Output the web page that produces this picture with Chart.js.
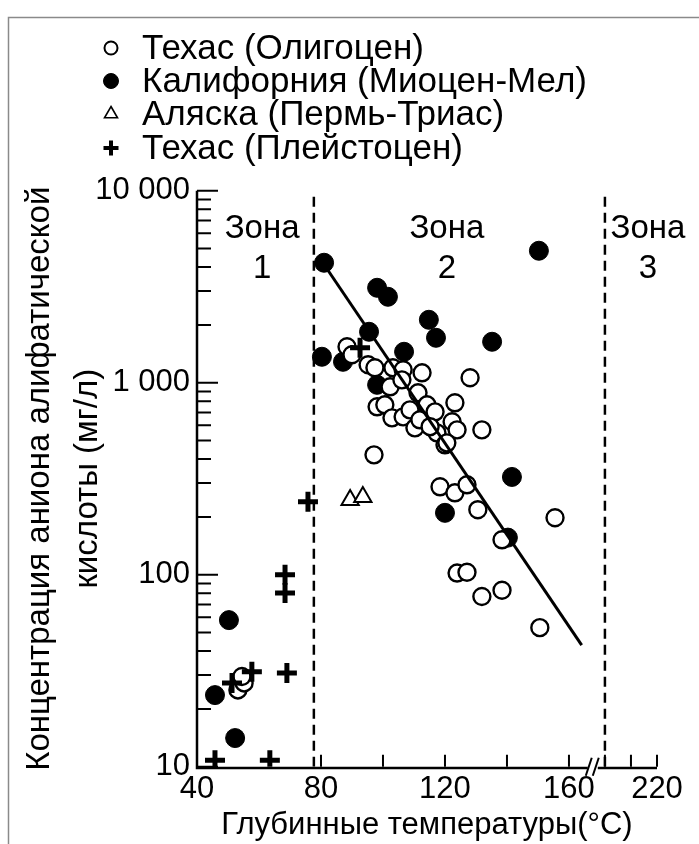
<!DOCTYPE html>
<html lang="ru">
<head>
<meta charset="utf-8">
<title>Концентрация аниона алифатической кислоты</title>
<script src="https://cdn.jsdelivr.net/npm/chart.js@4.4.1/dist/chart.umd.min.js"></script>
<style>
  html, body { margin: 0; padding: 0; background: #fff; }
  canvas { display: block; }
</style>
</head>
<body>
<canvas id="chart" width="699" height="844"></canvas>
<script>
// Техас (Олигоцен) - open circles
const oligoceneTemp = [88.4, 90.0, 95.2, 97.4, 103.2, 106.5, 112.6, 128.1, 102.3, 106.1, 111.3, 98.1, 100.6, 102.9, 106.5,
    108.7, 110.3, 115.8, 123.2, 122.3, 123.9, 117.4, 120.0, 131.9, 97.1, 111.9, 114.2, 116.8, 115.2, 120.6,
    118.4, 123.2, 127.1, 130.6, 138.4, 155.5, 123.9, 127.1, 131.9, 138.4, 150.6, 53.2, 55.2, 54.5]
const oligoceneConc = [1539, 1398, 1240, 1196, 1196, 1168, 1126, 1061, 952, 1035, 886, 749, 767, 656, 664,
    722, 582, 697, 786, 626, 568, 548, 475, 568, 421, 641, 767, 705, 590, 486,
    287, 267, 294, 218, 152, 198, 102, 103, 77, 83, 53, 25.1, 27.3, 29.5]

// Калифорния (Миоцен-Мел) - filled circles
const californiaTemp = [81.0, 80.3, 98.1, 101.6, 95.5, 114.8, 117.1, 106.8, 87.1, 150.3, 135.2, 98.1, 141.6, 120.0, 140.3, 50.3, 45.8, 52.3]
const californiaConc = [4215, 1365, 3122, 2803, 1842, 2127, 1714, 1449, 1285, 4868, 1634, 975, 323, 210, 156, 58, 23.6, 14.1]

// Аляска (Пермь-Триас) - triangles
const alaskaTemp = [89.4, 93.5]
const alaskaConc = [245, 254]

// Техас (Плейстоцен) - crosses
const pleistoceneTemp = [75.8, 68.4, 68.4, 69.0, 57.7, 51.3, 45.8, 63.5, 92.6]
const pleistoceneConc = [240, 100, 80.4, 30.8, 31.2, 27.3, 10.8, 10.8, 1520]

// regression line ends
const trendTemp = [80.6, 164.1]
const trendConc = [4215, 43]

const zoneBounds = [77.7, 200]
const zoneNames = ['Зона', 'Зона', 'Зона']
const zoneNumbers = ['1', '2', '3']

const xTickValues = [40, 80, 120, 160, 220]
const xTickMarks = [80, 100, 120, 140, 160, 200, 210, 220]
const yTickValues = [10, 100, 1000, 10000]

const FONT = "'Liberation Sans', Arial, sans-serif"

const toPoints = (xs, ys) => xs.map((x, i) => ({ x: x, y: ys[i] }))

// temperature axis is cut between 168 and 196 °C, the tail after the cut is a bit denser
const CUT_START = 168, CUT_END = 196, CUT_GAP = 0.24, TAIL_SCALE = 0.84
function squeeze(t) {
    if (t <= CUT_START) return t
    if (t < CUT_END) return CUT_START
    return CUT_START + CUT_GAP + (t - CUT_END) * TAIL_SCALE
}
function unsqueeze(u) {
    if (u <= CUT_START) return u
    return CUT_END + (u - CUT_START - CUT_GAP) / TAIL_SCALE
}

class BrokenLinearScale extends Chart.LinearScale {
    buildTicks() {
        this.start = this.min
        this.end = this.max
        return xTickValues.map(value => ({ value }))
    }
    getPixelForValue(value) {
        const a = squeeze(this.min), b = squeeze(this.max)
        return this.getPixelForDecimal((squeeze(value) - a) / (b - a))
    }
    getValueForPixel(pixel) {
        const a = squeeze(this.min), b = squeeze(this.max)
        return unsqueeze(a + this.getDecimalForPixel(pixel) * (b - a))
    }
}
BrokenLinearScale.id = 'brokenLinear'
BrokenLinearScale.defaults = Chart.LinearScale.defaults
Chart.register(BrokenLinearScale)

const spaced = v => String(v).replace(/\B(?=(\d{3})+(?!\d))/g, ' ')

// white sheet with a thin grey frame
const paper = {
    id: 'paper',
    beforeDraw(chart) {
        const ctx = chart.ctx
        ctx.save()
        ctx.fillStyle = '#fff'
        ctx.fillRect(0, 0, chart.width, chart.height)
        ctx.strokeStyle = '#8a8a8a'
        ctx.lineWidth = 1.5
        ctx.strokeRect(8.5, 17.5, chart.width + 10, chart.height + 10)
        ctx.restore()
    }
}

// axes with inner ticks, the axis break, zone captions and the legend
const decorations = {
    id: 'decorations',
    afterDraw(chart) {
        const ctx = chart.ctx
        const x = chart.scales.x, y = chart.scales.y
        const area = chart.chartArea
        ctx.save()
        ctx.strokeStyle = '#000'
        ctx.fillStyle = '#000'
        ctx.lineWidth = 2.5
        ctx.lineCap = 'butt'

        ctx.beginPath()
        ctx.moveTo(area.left, area.top)
        ctx.lineTo(area.left, area.bottom + 1.2)
        ctx.lineTo(area.right, area.bottom + 1.2)
        ctx.stroke()

        // log ticks on the inner side
        ctx.lineWidth = 2
        ctx.beginPath()
        for (let d = 10; d <= 10000; d *= 10) {
            for (let k = 1; k <= 9; k++) {
                const v = d * k
                if (v > 10000) break
                const py = y.getPixelForValue(v)
                ctx.moveTo(area.left, py)
                ctx.lineTo(area.left + (k === 1 ? 21 : 14), py)
            }
        }
        xTickMarks.forEach(t => {
            const px = x.getPixelForValue(t)
            ctx.moveTo(px, area.bottom)
            ctx.lineTo(px, area.bottom - 12)
        })
        ctx.stroke()

        // break marks
        const bx = x.getPixelForValue(CUT_START)
        ctx.fillStyle = '#fff'
        ctx.fillRect(bx - 6, area.bottom - 3, 10, 7)
        ctx.strokeStyle = '#000'
        ctx.lineWidth = 2
        ctx.beginPath()
        ctx.moveTo(bx - 8, area.bottom + 9)
        ctx.lineTo(bx - 2, area.bottom - 9)
        ctx.moveTo(bx - 1, area.bottom + 9)
        ctx.lineTo(bx + 5, area.bottom - 9)
        ctx.stroke()

        // zone captions
        const zoneCenters = [61, 120.6, 216.5]
        ctx.fillStyle = '#000'
        ctx.font = '33px ' + FONT
        ctx.textAlign = 'center'
        ctx.textBaseline = 'middle'
        zoneNames.forEach((name, i) => {
            const px = x.getPixelForValue(zoneCenters[i])
            ctx.fillText(name, px, area.top + 38)
            ctx.fillText(zoneNumbers[i], px, area.top + 78)
        })

        // legend
        const rows = [48, 81, 114, 148]
        const sizes = [6.5, 7.5, 7.5, 7.5]
        const widths = [2, 1, 1.6, 4]
        ctx.textAlign = 'left'
        ctx.font = '35px ' + FONT
        chart.data.datasets.filter(ds => ds.inLegend).forEach((ds, i) => {
            ctx.fillStyle = ds.backgroundColor
            ctx.strokeStyle = '#000'
            ctx.lineWidth = widths[i]
            Chart.helpers.drawPoint(ctx, {
                pointStyle: ds.pointStyle,
                radius: sizes[i],
                rotation: 0,
                borderWidth: widths[i]
            }, 111, rows[i])
            ctx.fillStyle = '#000'
            ctx.fillText(ds.label, 142, rows[i] + 1)
        })
        ctx.restore()
    }
}

const zoneLine = t => ({
    type: 'line',
    data: [{ x: t, y: 10 }, { x: t, y: 10000 }],
    borderColor: '#000',
    borderWidth: 2.5,
    borderDash: [10, 6],
    pointRadius: 0,
    showLine: true,
    order: 6
})

const data = {
    datasets: [
        {
            label: 'Техас (Олигоцен)',
            inLegend: true,
            data: toPoints(oligoceneTemp, oligoceneConc),
            pointStyle: 'circle',
            pointRadius: 8.5,
            pointBorderWidth: 2.4,
            borderColor: '#000',
            backgroundColor: '#fff',
            order: 3
        },
        {
            label: 'Калифорния (Миоцен-Мел)',
            inLegend: true,
            data: toPoints(californiaTemp, californiaConc),
            pointStyle: 'circle',
            pointRadius: 9.5,
            pointBorderWidth: 1,
            borderColor: '#000',
            backgroundColor: '#000',
            order: 5
        },
        {
            label: 'Аляска (Пермь-Триас)',
            inLegend: true,
            data: toPoints(alaskaTemp, alaskaConc),
            pointStyle: 'triangle',
            pointRadius: 10,
            pointBorderWidth: 2,
            borderColor: '#000',
            backgroundColor: '#fff',
            order: 4
        },
        {
            label: 'Техас (Плейстоцен)',
            inLegend: true,
            data: toPoints(pleistoceneTemp, pleistoceneConc),
            pointStyle: 'cross',
            pointRadius: 10,
            pointBorderWidth: 5,
            borderColor: '#000',
            backgroundColor: '#000',
            order: 2
        },
        {
            type: 'line',
            data: toPoints(trendTemp, trendConc),
            borderColor: '#000',
            borderWidth: 3,
            pointRadius: 0,
            showLine: true,
            order: 1
        },
        zoneLine(zoneBounds[0]),
        zoneLine(zoneBounds[1])
    ]
}

const config = {
    type: 'scatter',
    data: data,
    plugins: [paper, decorations],
    options: {
        responsive: false,
        animation: false,
        events: [],
        layout: { padding: { top: 190.7, right: 42, bottom: 0, left: 0 } },
        scales: {
            x: {
                type: 'brokenLinear',
                min: 40,
                max: 220,
                grid: { display: false, drawTicks: false },
                border: { display: false },
                ticks: {
                    color: '#000',
                    padding: 4,
                    maxRotation: 0,
                    autoSkip: false,
                    font: { family: FONT, size: 31 }
                },
                title: {
                    display: true,
                    text: 'Глубинные температуры(°C)',
                    color: '#000',
                    padding: { top: 0, bottom: 0 },
                    font: { family: FONT, size: 31 }
                },
                afterFit: scale => { scale.height = 77.3 }
            },
            y: {
                type: 'logarithmic',
                min: 10,
                max: 10000,
                grid: { display: false, drawTicks: false },
                border: { display: false },
                afterBuildTicks: scale => {
                    scale.ticks = yTickValues.map(value => ({ value, major: true }))
                },
                ticks: {
                    color: '#000',
                    padding: 7,
                    font: { family: FONT, size: 31 },
                    callback: value => spaced(value)
                },
                title: {
                    display: true,
                    text: ['Концентрация аниона алифатической', 'кислоты (мг/л)'],
                    color: '#000',
                    padding: { top: 16, bottom: 0 },
                    font: { family: FONT, size: 33, lineHeight: 1.45 }
                },
                afterFit: scale => { scale.width = 197 }
            }
        },
        plugins: {
            legend: { display: false },
            tooltip: { enabled: false }
        }
    }
}

const myChart = new Chart(document.getElementById('chart'), config)
</script>
</body>
</html>
